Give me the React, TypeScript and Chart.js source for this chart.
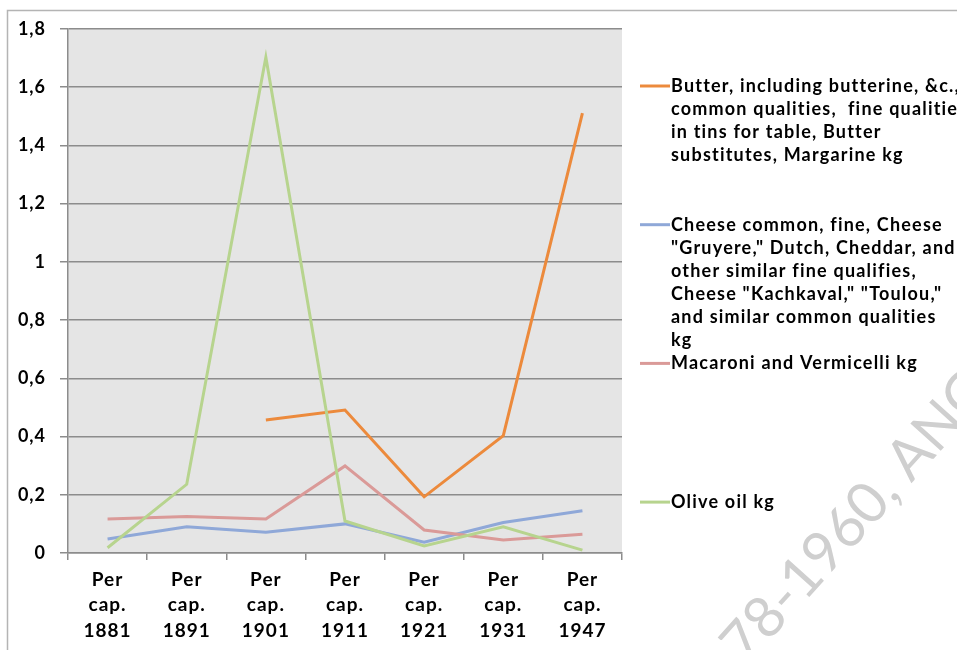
import React, { useEffect, useRef } from "react";
import { Chart, registerables } from "chart.js";

Chart.register(...registerables);

const years = ["1881", "1891", "1901", "1911", "1921", "1931", "1947"];
const categoryLabels = years.map((y) => ["Per", "cap.", y]);

const butter = [null, null, 0.457, 0.491, 0.193, 0.403, 1.511];
const cheese = [0.048, 0.09, 0.071, 0.1, 0.037, 0.105, 0.145];
const macaroni = [0.117, 0.125, 0.117, 0.299, 0.079, 0.045, 0.064];
const oliveOil = [0.018, 0.236, 1.703, 0.11, 0.024, 0.09, 0.01];

const legendLines = [
  [
    "Butter, including butterine, &c.,",
    "common qualities,  fine qualities",
    "in tins for table, Butter",
    "substitutes, Margarine kg",
  ],
  [
    "Cheese common, fine, Cheese",
    "\"Gruyere,\" Dutch, Cheddar, and",
    "other similar fine qualifies,",
    "Cheese \"Kachkaval,\" \"Toulou,\"",
    "and similar common qualities",
    "kg",
  ],
  ["Macaroni and Vermicelli kg"],
  ["Olive oil kg"],
];
const seriesNames = legendLines.map((l) => l.join(" "));
const seriesValues = [butter, cheese, macaroni, oliveOil];
const seriesColors = ["#EC8A3C", "#8FA8D8", "#DA9A98", "#B7D48E"];
const drawOrder = [3, 2, 1, 0];

const yTicksMin = 0;
const yTicksMax = 1.8;
const yStep = 0.2;

const watermarkText = "78-1960, ANG";

const FONT = "Lato, 'Open Sans', sans-serif";

export default function App() {
  const ref = useRef<HTMLCanvasElement | null>(null);

  useEffect(() => {
    const canvas = ref.current;
    if (!canvas) return;

    const decor = {
      id: "decor",
      beforeDraw(chart: any) {
        const { ctx, chartArea } = chart;
        ctx.save();
        ctx.fillStyle = "#ffffff";
        ctx.fillRect(0, 0, chart.width, chart.height);
        ctx.strokeStyle = "#b4b4b4";
        ctx.lineWidth = 1.5;
        ctx.strokeRect(7.5, 10.5, 1000, 700);
        ctx.fillStyle = "#e5e5e5";
        ctx.fillRect(
          chartArea.left,
          chartArea.top,
          chartArea.right - chartArea.left,
          chartArea.bottom - chartArea.top
        );
        ctx.restore();
        (ctx as any).letterSpacing = "1px";
      },
      afterDraw(chart: any) {
        const { ctx } = chart;
        ctx.save();
        // legend
        const legendTop = 86;
        const slot = 138.7;
        const lineH = 23;
        (ctx as any).letterSpacing = "1.2px";
        ctx.font = `bold 18px ${FONT}`;
        ctx.textBaseline = "middle";
        ctx.textAlign = "left";
        legendLines.forEach((lines, i) => {
          const y0 = legendTop + i * slot;
          ctx.strokeStyle = seriesColors[i];
          ctx.lineWidth = 3;
          ctx.beginPath();
          ctx.moveTo(640, y0);
          ctx.lineTo(670, y0);
          ctx.stroke();
          ctx.fillStyle = "#000000";
          lines.forEach((t, j) => ctx.fillText(t, 671, y0 + j * lineH));
        });
        // watermark
        (ctx as any).letterSpacing = "0px";
        ctx.translate(746, 667);
        ctx.rotate((-48 * Math.PI) / 180);
        ctx.font = `57px ${FONT}`;
        ctx.fillStyle = "#cfcfcf";
        ctx.textBaseline = "alphabetic";
        ctx.fillText(watermarkText, 0, 0);
        ctx.restore();
      },
    };

    const chart = new Chart(canvas, {
      type: "line",
      data: {
        labels: categoryLabels,
        datasets: seriesValues.map((vals, i) => ({
          label: seriesNames[i],
          data: vals,
          borderColor: seriesColors[i],
          backgroundColor: seriesColors[i],
          borderWidth: 3,
          pointRadius: 0,
          tension: 0,
          fill: false,
          spanGaps: false,
          order: drawOrder[i],
        })),
      },
      options: {
        animation: false,
        responsive: false,
        events: [],
        layout: { padding: { top: 29, right: 335, bottom: 0, left: 0 } },
        plugins: {
          legend: { display: false },
          tooltip: { enabled: false },
          title: { display: false },
        },
        scales: {
          x: {
            offset: true,
            grid: {
              offset: true,
              drawOnChartArea: false,
              drawTicks: true,
              tickLength: 7,
              color: "#8c8c8c",
              lineWidth: 1.5,
            },
            border: { display: true, color: "#8c8c8c", width: 1.5 },
            ticks: {
              color: "#000000",
              font: { family: FONT, weight: "bold", size: 19, lineHeight: 1.34 },
              padding: 7,
              maxRotation: 0,
              autoSkip: false,
            },
            afterFit: (s: any) => {
              s.height = 97;
            },
          },
          y: {
            min: yTicksMin,
            max: yTicksMax,
            grid: {
              color: "#8c8c8c",
              lineWidth: 1.5,
              drawTicks: true,
              tickLength: 8,
            },
            border: { display: true, color: "#8c8c8c", width: 1.5 },
            ticks: {
              stepSize: yStep,
              color: "#000000",
              font: { family: FONT, weight: "bold", size: 18 },
              padding: 14,
              callback: (v: any) =>
                String(Number(Number(v).toFixed(1))).replace(".", ","),
            },
            afterFit: (s: any) => {
              s.width = 68;
            },
          },
        },
      },
      plugins: [decor],
    } as any);

    return () => chart.destroy();
  }, []);

  return (
    <div style={{ position: "absolute", left: 0, top: 0, width: 957, height: 650 }}>
      <canvas ref={ref} width={957} height={650} style={{ width: 957, height: 650 }} />
    </div>
  );
}
